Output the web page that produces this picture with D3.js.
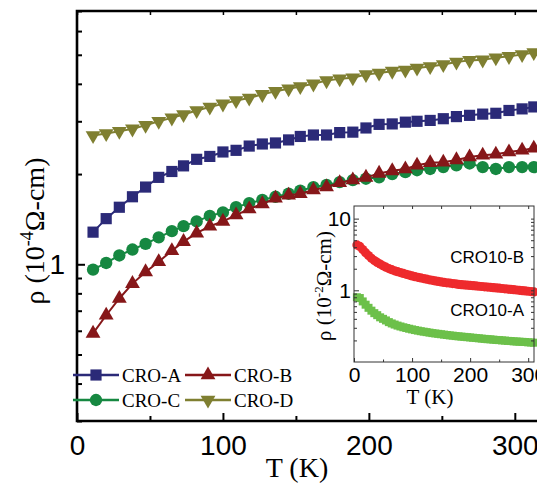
<!DOCTYPE html>
<html>
<head>
<meta charset="utf-8">
<script src="https://cdn.jsdelivr.net/npm/d3@7"></script>
<style>
  body { margin: 0; background: #fff; }
  svg { display: block; }
</style>
</head>
<body>
<svg id="chart" width="537" height="483"></svg>
<script>
// main panel data (T in K, rho in 1e-4 ohm-cm)
var temps = [11, 20, 29, 38, 47, 56, 65, 73, 82, 91, 100, 109, 118, 127, 136, 145, 153, 162,
  171, 180, 189, 198, 207, 216, 225, 233, 242, 251, 260, 269, 278, 287, 296, 305, 313];
var croA = [1.28, 1.42, 1.55, 1.68, 1.81, 1.95, 2.04, 2.13, 2.24, 2.29, 2.37, 2.40, 2.48, 2.52,
  2.54, 2.60, 2.67, 2.70, 2.70, 2.75, 2.76, 2.85, 2.93, 2.94, 2.98, 3.00, 3.02, 3.06, 3.11,
  3.14, 3.17, 3.19, 3.26, 3.30, 3.35];
var croB = [0.588, 0.676, 0.769, 0.862, 0.943, 1.02, 1.11, 1.19, 1.27, 1.34, 1.39, 1.46, 1.53,
  1.59, 1.66, 1.70, 1.72, 1.77, 1.81, 1.87, 1.91, 1.95, 2.01, 2.05, 2.08, 2.14, 2.18, 2.19,
  2.23, 2.28, 2.31, 2.33, 2.37, 2.40, 2.44];
var croC = [0.96, 1.01, 1.07, 1.12, 1.17, 1.23, 1.29, 1.34, 1.39, 1.45, 1.49, 1.55, 1.60, 1.64,
  1.68, 1.72, 1.76, 1.81, 1.84, 1.88, 1.91, 1.93, 1.95, 2.00, 2.03, 2.06, 2.08, 2.11, 2.14,
  2.17, 2.11, 2.08, 2.11, 2.11, 2.11];
var croD = [2.69, 2.73, 2.78, 2.83, 2.91, 3.00, 3.08, 3.16, 3.26, 3.35, 3.43, 3.52, 3.59, 3.69,
  3.78, 3.85, 3.92, 4.00, 4.10, 4.16, 4.19, 4.30, 4.35, 4.41, 4.45, 4.52, 4.57, 4.64, 4.73,
  4.79, 4.81, 4.89, 4.94, 5.01, 5.09];

// inset data (T in K, rho in 1e-2 ohm-cm)
var insetTemps = [5, 10, 15, 20, 25, 30, 35, 40, 45, 50, 55, 60, 65, 70, 75, 80, 85, 90, 95, 100,
  105, 110, 115, 120, 125, 130, 135, 140, 145, 150, 155, 160, 165, 170, 175, 180, 185, 190, 195,
  200, 205, 210, 215, 220, 225, 230, 235, 240, 245, 250, 255, 260, 265, 270, 275, 280, 285, 290,
  295, 300, 305, 310];
var cro10B = [4.3, 4.1, 3.7, 3.35, 3.05, 2.8, 2.6, 2.45, 2.32, 2.2, 2.1, 2.01, 1.94, 1.87, 1.82,
  1.77, 1.72, 1.67, 1.63, 1.59, 1.55, 1.52, 1.49, 1.46, 1.43, 1.40, 1.38, 1.35, 1.33, 1.31, 1.29,
  1.27, 1.26, 1.24, 1.23, 1.21, 1.20, 1.19, 1.18, 1.17, 1.16, 1.15, 1.14, 1.13, 1.12, 1.11, 1.10,
  1.09, 1.08, 1.07, 1.06, 1.05, 1.04, 1.03, 1.02, 1.01, 1.00, 0.99, 0.98, 0.97, 0.96, 0.95];
var cro10A = [0.80, 0.78, 0.70, 0.63, 0.57, 0.52, 0.48, 0.45, 0.42, 0.40, 0.38, 0.36, 0.345,
  0.333, 0.322, 0.313, 0.305, 0.298, 0.291, 0.285, 0.279, 0.274, 0.269, 0.265, 0.261, 0.257,
  0.253, 0.250, 0.247, 0.244, 0.241, 0.238, 0.235, 0.233, 0.230, 0.228, 0.226, 0.224, 0.222,
  0.220, 0.218, 0.216, 0.214, 0.212, 0.210, 0.208, 0.207, 0.205, 0.203, 0.202, 0.200, 0.199,
  0.197, 0.196, 0.194, 0.193, 0.192, 0.191, 0.190, 0.188, 0.187, 0.186];

var xTicks = [0, 100, 200, 300];
var xMinor = [50, 150, 250];
var yMinor = [0.3, 0.4, 0.5, 0.6, 0.7, 0.8, 0.9, 2, 3, 4, 5, 6, 7];
var insetXTicks = [0, 100, 200, 300];
var insetYTicks = [1, 10];

var serif = "'Liberation Serif', 'Times New Roman', serif";
var sans = "'Liberation Sans', Arial, sans-serif";

var svg = d3.select("#chart");

// ---------- main panel ----------
var x = d3.scaleLinear().domain([0, 320]).range([77, 544]);
var y = d3.scaleLog().domain([0.3, 7]).range([421, 11]);

var series = [
  { name: "CRO-A", values: croA, color: "#2b2a78", symbol: d3.symbolSquare, size: 125, rot: 0 },
  { name: "CRO-C", values: croC, color: "#168841", symbol: d3.symbolCircle, size: 120, rot: 0 },
  { name: "CRO-B", values: croB, color: "#861719", symbol: d3.symbolTriangle, size: 95, rot: 0 },
  { name: "CRO-D", values: croD, color: "#7f7f31", symbol: d3.symbolTriangle, size: 95, rot: 180 }
];

var line = d3.line()
  .x(function(d) { return x(d[0]); })
  .y(function(d) { return y(d[1]); });

series.forEach(function(s) {
  var pts = temps.map(function(t, i) { return [t, s.values[i]]; });
  svg.append("path")
    .attr("d", line(pts))
    .attr("fill", "none")
    .attr("stroke", s.color)
    .attr("stroke-width", 2);
  svg.append("g").selectAll("path")
    .data(pts)
    .enter().append("path")
    .attr("d", d3.symbol().type(s.symbol).size(s.size))
    .attr("transform", function(d) {
      return "translate(" + x(d[0]) + "," + y(d[1]) + ") rotate(" + s.rot + ")";
    })
    .attr("fill", s.color);
});

// frame
svg.append("path")
  .attr("d", "M" + x(320) + "," + y(7) + "H" + x(0) + "V" + y(0.3) + "H" + x(320))
  .attr("fill", "none")
  .attr("stroke", "#000")
  .attr("stroke-width", 2.6);

// x ticks, bottom and top, pointing inward
var xAxisB = d3.axisBottom(x).tickValues(xTicks).tickSize(-8).tickFormat(d3.format("d"));
var gxb = svg.append("g").attr("transform", "translate(0," + y(0.3) + ")").call(xAxisB);
gxb.select(".domain").remove();
gxb.selectAll("line").attr("stroke-width", 2);
gxb.selectAll("text")
  .attr("y", 14)
  .attr("font-family", sans)
  .attr("font-size", 28)
  .attr("fill", "#000");

var gxbm = svg.append("g").attr("transform", "translate(0," + y(0.3) + ")")
  .call(d3.axisBottom(x).tickValues(xMinor).tickSize(-5).tickFormat(""));
gxbm.select(".domain").remove();
gxbm.selectAll("line").attr("stroke-width", 2);

var gxt = svg.append("g").attr("transform", "translate(0," + y(7) + ")")
  .call(d3.axisTop(x).tickValues(xTicks.concat(xMinor)).tickSize(-4).tickFormat(""));
gxt.select(".domain").remove();
gxt.selectAll("line").attr("stroke-width", 1.5);

// y ticks, left
var gy = svg.append("g").attr("transform", "translate(" + x(0) + ",0)")
  .call(d3.axisLeft(y).tickValues([1]).tickSize(-8).tickFormat(d3.format("d")));
gy.select(".domain").remove();
gy.selectAll("line").attr("stroke-width", 2);
gy.selectAll("text")
  .attr("x", -12)
  .attr("font-family", sans)
  .attr("font-size", 28)
  .attr("fill", "#000");

var gym = svg.append("g").attr("transform", "translate(" + x(0) + ",0)")
  .call(d3.axisLeft(y).tickValues(yMinor).tickSize(-5).tickFormat(""));
gym.select(".domain").remove();
gym.selectAll("line").attr("stroke-width", 2);

// axis titles
svg.append("text")
  .attr("x", 297)
  .attr("y", 477)
  .attr("text-anchor", "middle")
  .attr("font-family", serif)
  .attr("font-size", 28)
  .text("T (K)");

var yt = svg.append("text")
  .attr("transform", "translate(44,231) rotate(-90)")
  .attr("text-anchor", "middle")
  .attr("font-family", serif)
  .attr("font-size", 28);
yt.append("tspan").text("\u03c1 (10");
yt.append("tspan").attr("dy", -11).attr("font-size", 18).text("-4");
yt.append("tspan").attr("dy", 11).text("\u03a9-cm)");

// legend
var legendPos = [[73, 375], [73, 400], [185, 375], [185, 400]];
series.forEach(function(s, i) {
  var p = legendPos[i];
  var g = svg.append("g").attr("transform", "translate(" + p[0] + "," + p[1] + ")");
  g.append("line")
    .attr("x1", 0).attr("x2", 46)
    .attr("y1", 0).attr("y2", 0)
    .attr("stroke", s.color)
    .attr("stroke-width", 2.5);
  g.append("path")
    .attr("d", d3.symbol().type(s.symbol).size(s.size))
    .attr("transform", "translate(23,0) rotate(" + s.rot + ")")
    .attr("fill", s.color);
  g.append("text")
    .attr("x", 49)
    .attr("y", 6.5)
    .attr("font-family", serif)
    .attr("font-size", 19)
    .text(s.name);
});

// ---------- inset ----------
var ix = d3.scaleLinear().domain([0, 310]).range([354, 534]);
var iy = d3.scaleLog().domain([0.1, 15]).range([362, 206]);

svg.append("rect")
  .attr("x", 354).attr("y", iy(15))
  .attr("width", ix(310) - 354).attr("height", iy(0.1) - iy(15))
  .attr("fill", "#fff");

svg.append("g").selectAll("rect")
  .data(insetTemps)
  .enter().append("rect")
  .attr("x", function(d) { return ix(d) - 4; })
  .attr("y", function(d, i) { return iy(cro10A[i]) - 4; })
  .attr("width", 8).attr("height", 8)
  .attr("fill", "#6cc04a");

svg.append("g").selectAll("circle")
  .data(insetTemps)
  .enter().append("circle")
  .attr("cx", function(d) { return ix(d); })
  .attr("cy", function(d, i) { return iy(cro10B[i]); })
  .attr("r", 4.6)
  .attr("fill", "#ee2a2d");

svg.append("rect")
  .attr("x", 354).attr("y", iy(15))
  .attr("width", ix(310) - 354).attr("height", iy(0.1) - iy(15))
  .attr("fill", "none")
  .attr("stroke", "#333")
  .attr("stroke-width", 1);

var ixb = svg.append("g").attr("transform", "translate(0," + iy(0.1) + ")")
  .call(d3.axisBottom(ix).tickValues(insetXTicks).tickSize(-4).tickFormat(d3.format("d")));
ixb.select(".domain").remove();
ixb.selectAll("line").attr("stroke", "#333");
ixb.selectAll("text")
  .attr("y", 5)
  .attr("font-family", sans)
  .attr("font-size", 21)
  .attr("fill", "#000");

var ixm = svg.append("g").attr("transform", "translate(0," + iy(0.1) + ")")
  .call(d3.axisBottom(ix).tickValues([50, 150, 250]).tickSize(-2.5).tickFormat(""));
ixm.select(".domain").remove();
ixm.selectAll("line").attr("stroke", "#333");

var ixt = svg.append("g").attr("transform", "translate(0," + iy(15) + ")")
  .call(d3.axisTop(ix).tickValues([50, 100, 150, 200, 250, 300]).tickSize(-3).tickFormat(""));
ixt.select(".domain").remove();
ixt.selectAll("line").attr("stroke", "#333");

var iyMinor = [0.2, 0.3, 0.4, 0.5, 0.6, 0.7, 0.8, 0.9, 2, 3, 4, 5, 6, 7, 8, 9];
var iyl = svg.append("g").attr("transform", "translate(354,0)")
  .call(d3.axisLeft(iy).tickValues(insetYTicks).tickSize(-5).tickFormat(d3.format("d")));
iyl.select(".domain").remove();
iyl.selectAll("line").attr("stroke", "#333");
iyl.selectAll("text")
  .attr("x", -3)
  .attr("font-family", sans)
  .attr("font-size", 21)
  .attr("fill", "#000");

var iylm = svg.append("g").attr("transform", "translate(354,0)")
  .call(d3.axisLeft(iy).tickValues(iyMinor).tickSize(-3).tickFormat(""));
iylm.select(".domain").remove();
iylm.selectAll("line").attr("stroke", "#333");

var iyr = svg.append("g").attr("transform", "translate(" + ix(310) + ",0)")
  .call(d3.axisRight(iy).tickValues(insetYTicks.concat(iyMinor)).tickSize(-3).tickFormat(""));
iyr.select(".domain").remove();
iyr.selectAll("line").attr("stroke", "#333");

svg.append("text")
  .attr("x", 430).attr("y", 404)
  .attr("text-anchor", "middle")
  .attr("font-family", serif)
  .attr("font-size", 21)
  .text("T (K)");

var iyt = svg.append("text")
  .attr("transform", "translate(331,286) rotate(-90)")
  .attr("text-anchor", "middle")
  .attr("font-family", serif)
  .attr("font-size", 21);
iyt.append("tspan").text("\u03c1 (10");
iyt.append("tspan").attr("dy", -8).attr("font-size", 13).text("-2");
iyt.append("tspan").attr("dy", 8).text("\u03a9-cm)");

svg.append("text")
  .attr("x", 524).attr("y", 263)
  .attr("text-anchor", "end")
  .attr("font-family", sans)
  .attr("font-size", 17)
  .text("CRO10-B");

svg.append("text")
  .attr("x", 524).attr("y", 316)
  .attr("text-anchor", "end")
  .attr("font-family", sans)
  .attr("font-size", 17)
  .text("CRO10-A");
</script>
</body>
</html>
